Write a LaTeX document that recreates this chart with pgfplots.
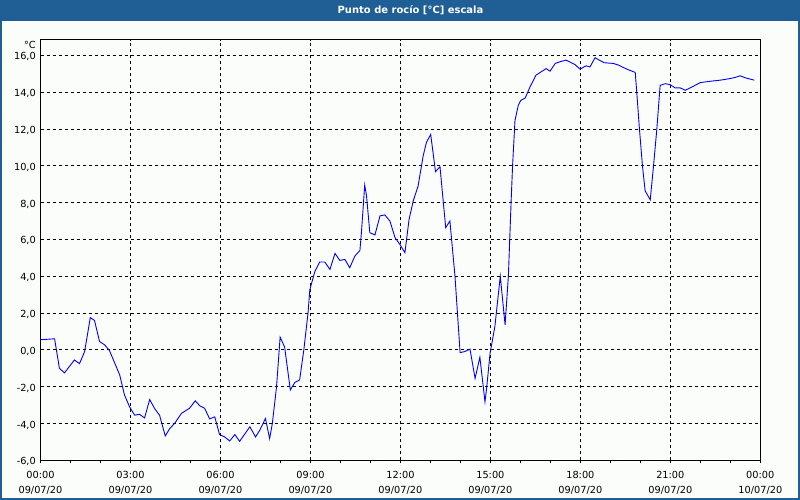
\documentclass[border=0pt]{standalone}
\usepackage{pgfplots}
\pgfplotsset{compat=1.18}
\usepackage{fontspec}
\setmainfont{DejaVu Sans}
\definecolor{barblue}{RGB}{31,95,149}
\definecolor{bgc}{RGB}{251,253,251}
\definecolor{lineblue}{RGB}{0,0,255}
\begin{document}
\begin{tikzpicture}[x=1bp,y=1bp]
\useasboundingbox (0,0) rectangle (800,500);
\fill[bgc] (0,0) rectangle (800,500);
\fill[barblue] (0,479) rectangle (800,500);
\draw[barblue, line width=2bp] (1,1) rectangle (799,499);
\node[text=white, font=\fontsize{10}{12}\bfseries\selectfont, inner sep=0pt] at (410.5,490) {Punto de rocío [°C] escala};
\begin{axis}[
  name=ax,
  at={(40.5bp,39.7bp)}, anchor=south west,
  scale only axis, width=719.8bp, height=420.6bp,
  xmin=0, xmax=24, ymin=-6, ymax=16.85,
  axis line style={black, line width=1bp},
  xtick={0,3,...,24},
  minor x tick num=2,
  xticklabels={{00:00\\09/07/20},{03:00\\09/07/20},{06:00\\09/07/20},{09:00\\09/07/20},{12:00\\09/07/20},{15:00\\09/07/20},{18:00\\09/07/20},{21:00\\09/07/20},{00:00\\10/07/20}},
  x tick label style={align=center, font=\fontsize{9.8}{15}\selectfont, inner sep=0pt, yshift=-8bp},
  xtick pos=left, ytick pos=left,
  tick align=outside, major tick length=3bp, minor tick length=3bp,
  tick style={black, line width=0.8bp},
  ytick={-6,-4,...,16},
  yticklabels={{-6,0},{-4,0},{-2,0},{0,0},{2,0},{4,0},{6,0},{8,0},{10,0},{12,0},{14,0},{16,0}},
  ytick style={draw=none},
  y tick label style={font=\fontsize{9.8}{12}\selectfont, inner sep=0pt, xshift=-1.5bp, yshift=-1.5bp},
  grid=major,
  major grid style={black, line width=0.8bp, dash pattern=on 3bp off 3bp},
  clip mode=individual,
]
\addplot[lineblue, line width=0.9bp] coordinates {
(0.00,0.55) (0.47,0.6) (0.63,-1.0) (0.80,-1.25) (1.13,-0.55) (1.30,-0.75) (1.47,-0.1)
(1.66,1.75) (1.80,1.6) (1.97,0.45) (2.14,0.27) (2.30,-0.04) (2.47,-0.7) (2.64,-1.36)
(2.80,-2.45) (2.97,-3.1) (3.14,-3.55) (3.30,-3.5) (3.47,-3.7) (3.64,-2.7) (3.81,-3.2)
(3.97,-3.55) (4.16,-4.68) (4.31,-4.27) (4.47,-4.0) (4.70,-3.45) (4.97,-3.17) (5.16,-2.77)
(5.31,-3.04) (5.47,-3.17) (5.64,-3.75) (5.81,-3.64) (5.97,-4.6) (6.14,-4.73) (6.31,-4.95)
(6.48,-4.6) (6.64,-4.97) (6.98,-4.18) (7.17,-4.73) (7.31,-4.37) (7.50,-3.73) (7.64,-4.82)
(7.73,-4.0) (7.87,-2.0) (7.99,0.69) (8.14,0.15) (8.33,-2.18) (8.48,-1.77) (8.64,-1.64)
(8.78,0.0) (8.92,2.0) (8.98,3.27) (9.15,4.27) (9.31,4.77) (9.48,4.77) (9.65,4.37)
(9.82,5.24) (9.98,4.86) (10.15,4.91) (10.31,4.46) (10.48,5.09) (10.65,5.4) (10.70,6.37)
(10.81,8.95) (10.87,8.37) (10.98,6.37) (11.15,6.24) (11.32,7.28) (11.48,7.33) (11.65,7.0)
(11.82,6.1) (11.98,5.73) (12.15,5.28) (12.29,7.1) (12.43,8.1) (12.59,8.9) (12.76,10.55)
(12.87,11.28) (13.01,11.7) (13.17,9.68) (13.32,9.95) (13.51,6.64) (13.65,7.0) (13.82,4.0)
(13.99,-0.15) (14.15,-0.09) (14.32,0.04) (14.49,-1.55) (14.65,-0.4) (14.82,-2.82)
(14.88,-2.0) (14.99,-0.18) (15.15,1.27) (15.33,4.0) (15.49,1.36) (15.60,4.0) (15.69,8.0)
(15.74,10.0) (15.82,12.46) (15.93,13.28) (16.01,13.55) (16.16,13.68) (16.32,14.28)
(16.52,14.92) (16.66,15.07) (16.86,15.28) (16.99,15.14) (17.16,15.56) (17.32,15.65)
(17.52,15.74) (17.82,15.5) (17.99,15.25) (18.19,15.43) (18.32,15.37) (18.49,15.87)
(18.79,15.6) (19.10,15.56) (19.27,15.47) (19.55,15.25) (19.83,15.07) (19.88,14.0)
(19.97,12.0) (20.07,10.0) (20.16,8.64) (20.33,8.15) (20.44,10.0) (20.55,12.0)
(20.66,14.37) (20.83,14.46) (20.99,14.41) (21.16,14.23) (21.33,14.23) (21.50,14.1)
(21.66,14.23) (22.00,14.52) (22.33,14.59) (22.66,14.65) (23.00,14.74) (23.16,14.8)
(23.33,14.89) (23.50,14.78) (23.80,14.65)
};
\end{axis}
\node[anchor=east, inner sep=0pt, font=\fontsize{9.8}{12}\selectfont] at ([xshift=-4.5bp, yshift=-5bp]ax.north west) {°C};
\end{tikzpicture}
\end{document}
